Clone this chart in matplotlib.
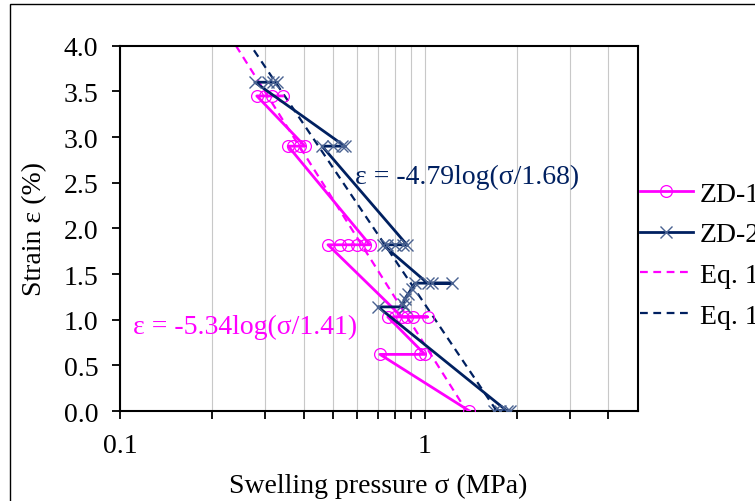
import matplotlib
matplotlib.use('Agg')
import matplotlib.pyplot as plt
from matplotlib.patches import Rectangle
from matplotlib.ticker import FixedLocator, FuncFormatter, NullFormatter

# ZD-1 test path (pressure MPa, strain %)
zd1_sigma = [0.342, 0.315, 0.299, 0.281,
             0.404, 0.389, 0.369, 0.356,
             0.660, 0.636, 0.598, 0.559, 0.526, 0.481,
             0.841, 1.02, 0.914, 0.873, 0.797, 0.756,
             1.00, 0.963, 0.712,
             1.40]
zd1_strain = [3.45, 3.45, 3.45, 3.45,
              2.90, 2.90, 2.90, 2.90,
              1.82, 1.82, 1.82, 1.82, 1.82, 1.82,
              1.03, 1.03, 1.03, 1.03, 1.03, 1.03,
              0.62, 0.62, 0.62,
              0.0]

# ZD-2 test path
zd2_sigma = [0.327, 0.318, 0.306, 0.277,
             0.546, 0.534, 0.499, 0.460,
             0.873, 0.847, 0.797, 0.750, 0.728,
             1.02, 1.227, 1.055, 0.927,
             0.906, 0.880, 0.860, 0.847,
             0.860, 0.702,
             1.86, 1.76, 1.69, 1.90]
zd2_strain = [3.60, 3.60, 3.60, 3.60,
              2.90, 2.90, 2.90, 2.90,
              1.82, 1.82, 1.82, 1.82, 1.82,
              1.40, 1.40, 1.40, 1.40,
              1.34, 1.28, 1.23, 1.17,
              1.14, 1.14,
              0.0, 0.0, 0.0, 0.0]

# fitted lines (Eq. 1), end points
eq_zd1_sigma = [0.24, 1.37]
eq_zd1_strain = [4.0, 0.0]
eq_zd2_sigma = [0.275, 1.72]
eq_zd2_strain = [3.95, 0.0]

labels = ['ZD-1', 'ZD-2', 'Eq. 1', 'Eq. 1']
text_zd2 = '\u03b5 = -4.79log(\u03c3/1.68)'
text_zd1 = '\u03b5 = -5.34log(\u03c3/1.41)'

magenta = '#FF00FF'
navy = '#002060'
xcol = '#4A6291'

plt.rcParams['font.family'] = ['Liberation Serif', 'DejaVu Serif']
fs = 20

fig = plt.figure(figsize=(7.55, 5.02), dpi=100)
ax = fig.add_axes([120/755, 1-412/502, 518/755, 365.3/502])

l1, = ax.plot(zd1_sigma, zd1_strain, '-', color=magenta, lw=2.0, marker='o', ms=8.5,
              mfc='none', mec=magenta, mew=0.9, zorder=3)
l2, = ax.plot(zd2_sigma, zd2_strain, '-', color=navy, lw=2.0, marker='x', ms=9,
              mec=xcol, mew=1.0, zorder=4)
l3, = ax.plot(eq_zd1_sigma, eq_zd1_strain, '--', color=magenta, lw=1.6, dashes=(3.5, 2.5), zorder=2)
l4, = ax.plot(eq_zd2_sigma, eq_zd2_strain, '--', color=navy, lw=1.6, dashes=(3.5, 2.5), zorder=2)

ax.set_xscale('log')
ax.set_xlim(0.1, 5)
ax.set_ylim(0, 4)
ax.set_yticks([0, 0.5, 1, 1.5, 2, 2.5, 3, 3.5, 4])
ax.yaxis.set_major_formatter(FuncFormatter(lambda v, p: '%.1f' % v))
ax.xaxis.set_major_locator(FixedLocator([0.1, 1]))
ax.xaxis.set_major_formatter(FuncFormatter(lambda v, p: '%g' % v))
ax.xaxis.set_minor_locator(FixedLocator([0.2, 0.3, 0.4, 0.5, 0.6, 0.7, 0.8, 0.9, 2, 3, 4]))
ax.xaxis.set_minor_formatter(NullFormatter())
ax.grid(True, axis='x', which='both', color='#C8C8C8', lw=0.8)
ax.set_axisbelow(True)

ax.tick_params(axis='both', which='both', direction='out', length=5.5, width=1.3,
               labelsize=fs, pad=10, colors='black')
for s in ax.spines.values():
    s.set_linewidth(1.5)
    s.set_color('black')

ax.set_xlabel('Swelling pressure \u03c3 (MPa)', fontsize=fs)
ax.set_ylabel('Strain \u03b5 (%)', fontsize=fs)
ax.xaxis.set_label_coords(0.498, -0.17)
ax.yaxis.set_label_coords(-0.14, 0.5)

ax.text(0.589, 2.57, text_zd2, color=navy, fontsize=fs, ha='left', va='center')
ax.text(0.110, 0.93, text_zd1, color=magenta, fontsize=fs, ha='left', va='center')

fig.legend([l1, l2, l3, l4], labels, loc='center left',
           bbox_to_anchor=(640/755, 1-256/502), frameon=False, fontsize=fs,
           borderaxespad=0, borderpad=0, handlelength=1.9, handletextpad=0.25,
           labelspacing=0.55)

# outer chart border
fig.patches.append(Rectangle((10/755, -0.1), 2, 1.1 - 5/502, transform=fig.transFigure,
                             fill=False, edgecolor='black', lw=1.0))

fig.savefig('out.png', dpi=100)
